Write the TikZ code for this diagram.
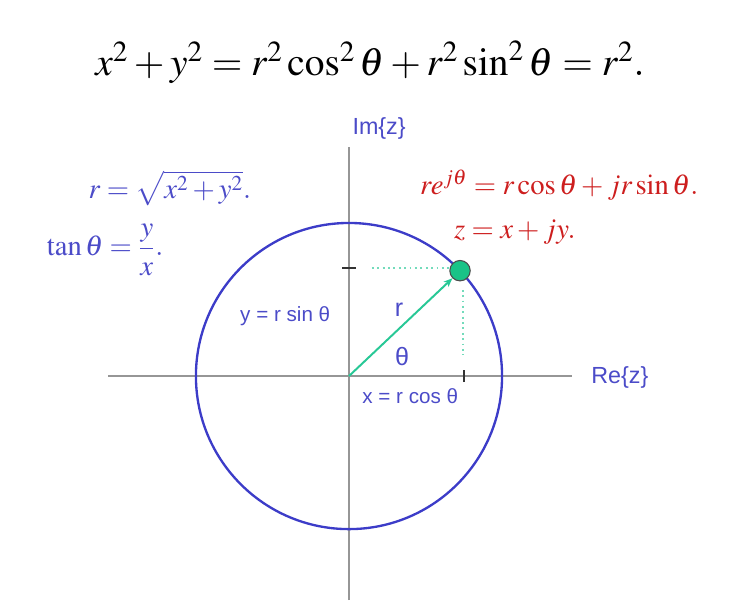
\documentclass[tikz,border=0pt]{standalone}
\usepackage{mathptmx}
\usepackage[no-math]{fontspec}
\setmainfont{Liberation Serif}
\setsansfont{Liberation Sans}
\usepackage{tikz}
\usetikzlibrary{arrows.meta, positioning}

\definecolor{circblue}{RGB}{60,60,200}
\definecolor{txtblue}{RGB}{75,75,200}
\definecolor{txtred}{RGB}{205,30,30}
\definecolor{radgreen}{RGB}{40,200,150}
\definecolor{dotgreen}{RGB}{25,195,135}
\definecolor{axisgray}{RGB}{150,150,150}

\tikzset{
	axis/.style={draw=axisgray, line width=0.7pt},
	tickmark/.style={draw=black!80, line width=0.8pt},
	helper/.style={draw=radgreen!65, dotted, line width=1pt},
	lbl/.style={font=\sffamily\fontsize{11.5}{13}\selectfont, text=txtblue, inner sep=1pt},
	eqblue/.style={font=\fontsize{16}{18}\selectfont, text=txtblue, inner sep=1pt},
	eqred/.style={font=\fontsize{16}{18}\selectfont, text=txtred, inner sep=1pt},
}

\begin{document}
\begin{tikzpicture}
	\useasboundingbox (-6.84, -4.685) rectangle (7.585, 7.37);
	% Axes and circle:
	\coordinate (O) at (0, 0);
	\coordinate (xl) at (-4.72, 0);
	\coordinate (xr) at (4.37, 0);
	\coordinate (yb) at (0, -4.39);
	\coordinate (yt) at (0, 4.49);
	\draw[axis] (xl) -- (xr);
	\draw[axis] (yb) -- (yt);
	\draw[circblue, line width=1.3pt] (O) circle (3);
	\node[lbl, font=\sffamily\fontsize{13}{15}\selectfont] (imz) at (0.59, 4.86){Im\{z\}};
	\node[lbl, font=\sffamily\fontsize{13}{15}\selectfont] (rez) at (5.31, -0.02){Re\{z\}};
	% Ticks:
	\draw[tickmark] (2.25, -0.12) -- (2.25, 0.12);
	\draw[tickmark] (-0.13, 2.12) -- (0.13, 2.12);
	% Projections:
	\coordinate (hA) at (0.45, 2.12);
	\coordinate (hB) at (2.08, 2.12);
	\coordinate (vA) at (2.23, 1.69);
	\coordinate (vB) at (2.23, 0.41);
	\draw[helper] (hA) -- (hB);
	\draw[helper] (vA) -- (vB);
	% Point z and radius:
	\node[circle, fill=dotgreen, draw=black!70, line width=0.6pt, minimum size=0.4cm, inner sep=0pt] (P) at (43.5:3){};
	\draw[radgreen, line width=1.1pt, -{Stealth[length=5pt, width=4pt]}] (O) -- (P.225);
	\node[lbl, font=\sffamily\fontsize{14}{16}\selectfont] (rlbl) at (0.98, 1.30){r};
	\node[lbl, font=\sffamily\fontsize{14}{16}\selectfont] (thlbl) at (1.04, 0.39){θ};
	\node[lbl] (ylbl) at (-1.25, 1.18){y = r sin θ};
	\node[lbl] (xlbl) at (1.2, -0.39){x = r cos θ};
	% Equations:
	\node[font=\fontsize{22}{26}\selectfont, inner sep=1pt] (toper) at (0.41, 6.15){$x^2+y^2=r^2\cos^2\theta+r^2\sin^2\theta=r^2.$};
	\node[eqblue] (rdef) at (-3.51, 3.68){$r=\sqrt{x^2+y^2}.$};
	\node[eqblue] (tdef) at (-4.78, 2.47){$\tan\theta=\displaystyle\frac{y}{x}.$};
	\node[eqred] (euler) at (4.12, 3.74){$re^{j\theta}=r\cos\theta+jr\sin\theta.$};
	\node[eqred] (zdef) at (3.25, 2.82){$z=x+jy.$};
\end{tikzpicture}
\end{document}
